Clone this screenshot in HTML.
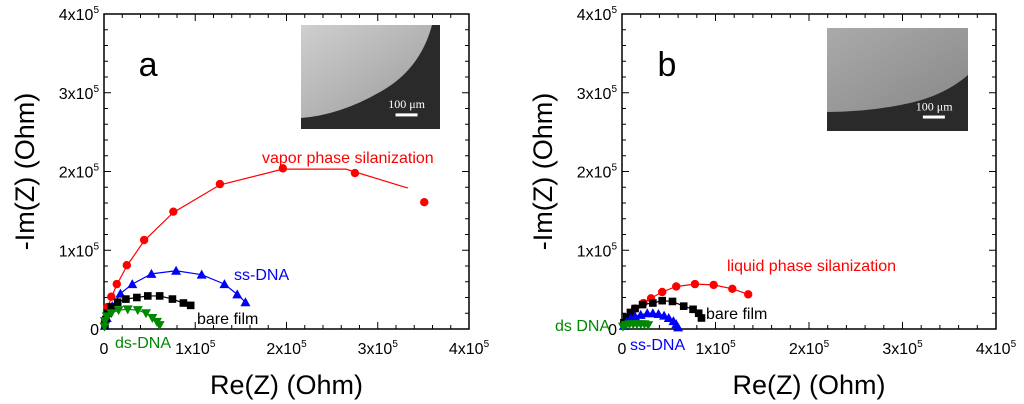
<!DOCTYPE html>
<html><head><meta charset="utf-8">
<style>
body{margin:0;background:#fff;}
svg{display:block;font-family:"Liberation Sans",Arial,sans-serif;}
</style></head>
<body>
<svg id="chart" width="1024" height="404" viewBox="0 0 1024 404" xmlns="http://www.w3.org/2000/svg">
<defs>
<linearGradient id="gA" x1="0" y1="0" x2="1" y2="1">
<stop offset="0" stop-color="#cfcfcf"/><stop offset="0.5" stop-color="#b5b5b5"/><stop offset="1" stop-color="#999"/>
</linearGradient>
<linearGradient id="gB" x1="0" y1="0" x2="1" y2="1">
<stop offset="0" stop-color="#aaa"/><stop offset="1" stop-color="#888"/>
</linearGradient>
</defs>
<g id="root"></g>
</svg>
<script>
// Panel a data (units of 1e5 Ohm)
const xTicks = [0,1,2,3,4];
const yTicks = [0,1,2,3,4];
const aRedX = [0.01,0.04,0.08,0.14,0.25,0.44,0.76,1.27,1.96,2.75,3.51];
const aRedY = [0.10,0.28,0.41,0.57,0.81,1.13,1.49,1.84,2.04,1.98,1.61];
const aRedFitX = [0,0.04,0.08,0.14,0.25,0.44,0.76,1.27,1.96,2.2,2.65,3.33];
const aRedFitY = [0,0.26,0.40,0.56,0.80,1.12,1.48,1.83,2.03,2.03,2.03,1.79];
const aBlueX = [0.01,0.03,0.05,0.09,0.18,0.31,0.52,0.79,1.07,1.32,1.46,1.55];
const aBlueY = [0.04,0.14,0.22,0.29,0.45,0.57,0.70,0.74,0.69,0.57,0.44,0.34];
const aBlackX = [0.01,0.02,0.04,0.08,0.15,0.24,0.36,0.48,0.61,0.75,0.87,0.95];
const aBlackY = [0.05,0.12,0.20,0.28,0.34,0.38,0.40,0.42,0.42,0.38,0.33,0.30];
const aGreenX = [0.005,0.01,0.03,0.08,0.16,0.26,0.37,0.46,0.53,0.58,0.61];
const aGreenY = [0.03,0.10,0.16,0.20,0.24,0.25,0.24,0.20,0.14,0.09,0.05];
// Panel b data
const bRedX = [0.02,0.06,0.10,0.14,0.23,0.31,0.43,0.58,0.78,0.98,1.18,1.35];
const bRedY = [0.06,0.14,0.20,0.26,0.33,0.39,0.47,0.54,0.57,0.56,0.51,0.44];
const bBlackX = [0.02,0.05,0.09,0.14,0.22,0.33,0.43,0.54,0.66,0.76,0.82,0.85];
const bBlackY = [0.08,0.15,0.21,0.26,0.31,0.33,0.36,0.35,0.29,0.25,0.20,0.14];
const bBlueX = [0.02,0.05,0.09,0.14,0.20,0.27,0.33,0.39,0.45,0.50,0.55,0.58,0.60];
const bBlueY = [0.04,0.09,0.13,0.16,0.18,0.20,0.20,0.19,0.17,0.14,0.10,0.06,0.02];
const bGreenX = [0.01,0.04,0.08,0.12,0.16,0.20,0.24,0.28];
const bGreenY = [0.03,0.05,0.06,0.06,0.06,0.06,0.06,0.05];

const NS="http://www.w3.org/2000/svg";
const root=document.getElementById('root');
function mk(tag,attrs,parent){const e=document.createElementNS(NS,tag);for(const k in attrs)e.setAttribute(k,attrs[k]);(parent||root).appendChild(e);return e;}

function panel(p){
  const g=mk('g',{});
  
  
  const X=v=>p.x0+v/4*(p.x1-p.x0);
  const Y=v=>p.y1-v/4*(p.y1-p.y0);
  const im=mk('g',{},g);
  
  
  mk('rect',{x:p.ix,y:p.iy,width:p.iw,height:p.ih,fill:'#2a2a2a'},im);
  mk('path',{d:p.ipath,fill:p.ifill},im);
  mk('rect',{x:p.ix+p.iw*0.68,y:p.iy+p.ih*0.85,width:22,height:3,fill:'#fff'},im);
  const st=mk('text',{x:p.ix+p.iw*0.76,y:p.iy+p.ih*0.8,'font-family':'Liberation Serif,serif','font-size':12,fill:'#fff','text-anchor':'middle'},im);
  st.textContent='100 μm';
  const fr=mk('rect',{x:p.x0,y:p.y0,width:p.x1-p.x0,height:p.y1-p.y0,fill:'none',stroke:'#000','stroke-width':1.5},g);
  
  
  for(let i=0;i<=20;i++){
    const v=i*0.2, major=i%5===0, L=major?7:4;
    const xx=X(v), yy=Y(v);
    mk('line',{x1:xx,y1:p.y1,x2:xx,y2:p.y1-L,stroke:'#000'},g);
    mk('line',{x1:xx,y1:p.y0,x2:xx,y2:p.y0+L,stroke:'#000'},g);
    mk('line',{x1:p.x0,y1:yy,x2:p.x0+L,y2:yy,stroke:'#000'},g);
    mk('line',{x1:p.x1,y1:yy,x2:p.x1-L,y2:yy,stroke:'#000'},g);
  }
  xTicks.forEach(v=>{
    const t=mk('text',{x:X(v),y:p.y1+25,'font-size':16,'text-anchor':'middle',fill:'#000'},g);
    
    
    if(v===0)t.textContent='0';else t.innerHTML=v+'x10<tspan dy="-7" font-size="10">5</tspan>';
  });
  yTicks.forEach(v=>{
    const t=mk('text',{x:p.x0-5,y:Y(v)+6,'font-size':16,'text-anchor':'end',fill:'#000'},g);
    
    
    if(v===0)t.textContent='0';else t.innerHTML=v+'x10<tspan dy="-7" font-size="10">5</tspan>';
  });
  const xt=mk('text',{x:(p.x0+p.x1)/2,y:394,'font-size':27,'text-anchor':'middle',fill:'#000'},g);
  
  
  xt.textContent='Re(Z) (Ohm)';
  const yt=mk('text',{x:0,y:0,'font-size':27,'text-anchor':'middle',fill:'#000',transform:`translate(${p.x0-70},${(p.y0+p.y1)/2}) rotate(-90)`},g);
  
  
  yt.textContent='-Im(Z) (Ohm)';
  const pl=mk('text',{x:X(0.38),y:76,'font-size':34,fill:'#000'},g);
  
  
  pl.textContent=p.id;
  p.series.forEach(s=>{
    const sg=mk('g',{},g);
    
    
    const fx=s.fx||s.x, fy=s.fy||s.y;
    mk('polyline',{points:fx.map((v,i)=>X(v)+','+Y(fy[i])).join(' '),fill:'none',stroke:s.c,'stroke-width':1.2},sg);
    s.x.forEach((v,i)=>{
      const cx=X(v), cy=Y(s.y[i]); let m;
      if(s.m==='circle')m=mk('circle',{cx,cy,r:4.2,fill:s.c},sg);
      else if(s.m==='square')m=mk('rect',{x:cx-3.8,y:cy-3.8,width:7.6,height:7.6,fill:s.c},sg);
      else if(s.m==='up')m=mk('polygon',{points:`${cx},${cy-5} ${cx-5},${cy+4} ${cx+5},${cy+4}`,fill:s.c},sg);
      else m=mk('polygon',{points:`${cx},${cy+5} ${cx-5},${cy-4} ${cx+5},${cy-4}`,fill:s.c},sg);
      
      
    });
  });
  p.labels.forEach(l=>{
    const t=mk('text',{x:l.x,y:l.y,'font-size':16,fill:l.c},g);
    
    
    t.textContent=l.t;
  });
}

panel({id:'a',x0:104,x1:469,y0:14,y1:329,
  ix:301,iy:25,iw:139,ih:104,ifill:'url(#gA)',
  ipath:'M301,25 H432 Q420,70 380,92 Q340,115 301,118 Z',
  series:[
    {name:'vapor',c:'#f00',m:'circle',x:aRedX,y:aRedY,fx:aRedFitX,fy:aRedFitY},
    {name:'ss-dna',c:'#00f',m:'up',x:aBlueX,y:aBlueY},
    {name:'bare',c:'#000',m:'square',x:aBlackX,y:aBlackY},
    {name:'ds-dna',c:'#080',m:'down',x:aGreenX,y:aGreenY}],
  labels:[{x:262,y:163,t:'vapor phase silanization',c:'#f00'},
    {x:234,y:280,t:'ss-DNA',c:'#00f'},
    {x:197,y:324,t:'bare film',c:'#000'},
    {x:115,y:348,t:'ds-DNA',c:'#080'}]});

panel({id:'b',x0:622,x1:996,y0:14,y1:329,
  ix:827,iy:28,iw:141,ih:103,ifill:'url(#gB)',
  ipath:'M827,28 H968 V75 Q945,95 910,103 Q870,112 827,112 Z',
  series:[
    {name:'liquid',c:'#f00',m:'circle',x:bRedX,y:bRedY},
    {name:'bare',c:'#000',m:'square',x:bBlackX,y:bBlackY},
    {name:'ss-dna',c:'#00f',m:'up',x:bBlueX,y:bBlueY},
    {name:'ds-dna',c:'#080',m:'down',x:bGreenX,y:bGreenY}],
  labels:[{x:727,y:271,t:'liquid phase silanization',c:'#f00'},
    {x:706,y:319,t:'bare  film',c:'#000'},
    {x:555,y:331,t:'ds DNA',c:'#080'},
    {x:630,y:350,t:'ss-DNA',c:'#00f'}]});
</script>
</body></html>
